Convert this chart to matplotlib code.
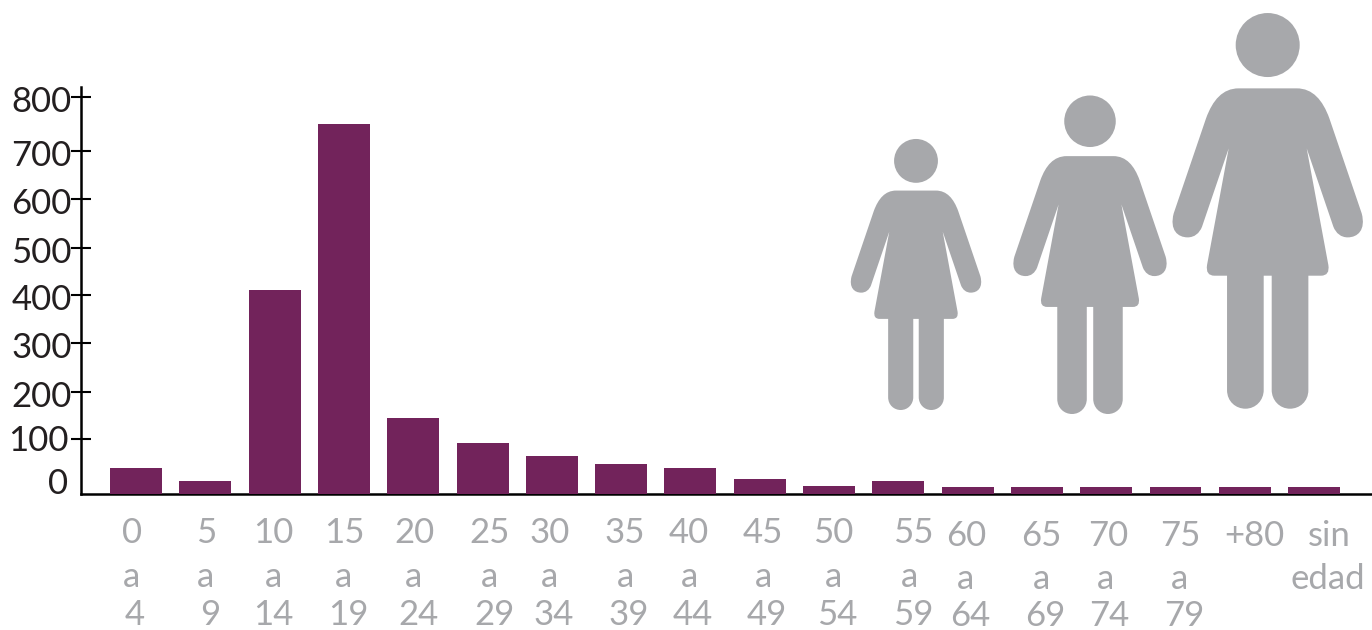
import numpy as np
import matplotlib
matplotlib.use("Agg")
import matplotlib.pyplot as plt
from matplotlib.path import Path
from matplotlib.patches import PathPatch, Circle
from matplotlib.transforms import ScaledTranslation

# data
age_groups = [("0", "a", "4"), ("5", "a", "9"), ("10", "a", "14"), ("15", "a", "19"),
              ("20", "a", "24"), ("25", "a", "29"), ("30", "a", "34"), ("35", "a", "39"),
              ("40", "a", "44"), ("45", "a", "49"), ("50", "a", "54"), ("55", "a", "59"),
              ("60", "a", "64"), ("65", "a", "69"), ("70", "a", "74"), ("75", "a", "79"),
              ("+80",), ("sin", "edad")]
cases = [47, 24, 410, 750, 145, 93, 69, 55, 47, 27, 15, 24, 13, 13, 13, 13, 13, 13]
y_ticks = [0, 100, 200, 300, 400, 500, 600, 700, 800]

# the printed y axis is not evenly spaced, so keep its tick heights (px from baseline)
scale_vals = [0, 100, 200, 300, 400, 500, 600, 700, 800, 820]
scale_px = [0, 55, 102, 151, 199, 246, 295, 343, 396.7, 407]

# hand placed label positions in the original (x for each line, baseline y for each line)
label_x = [(132, 131, 135), (206, 206, 210), (273, 273, 273), (344, 344, 348),
           (414, 414, 418), (490, 490, 494), (550, 550, 554), (625, 625, 629),
           (689, 689, 693), (763, 763, 767), (833, 833, 837), (913, 909, 913),
           (966, 966, 970), (1041, 1041, 1045), (1108, 1105, 1109), (1180, 1180, 1184),
           (1254,), (1329, 1328)]
label_y_early = (543, 587, 625)
label_y_late = (546, 589, 626)

PURPLE = "#72235b"
GREY = "#a7a8ab"
DARK = "#231f20"
W, H = 1372, 630
plt.rcParams["font.family"] = ["Lato", "DejaVu Sans"]

fig = plt.figure(figsize=(W / 100, H / 100), dpi=100)
ax = fig.add_axes([80.5 / W, (H - 494) / H, (W - 80.5) / W, 407 / H])

x = np.arange(len(cases))
ax.bar(x, cases, width=52 / 69.3, color=PURPLE, zorder=3)
ax.set_xlim((80.5 - 136) / 69.3, (W - 136) / 69.3)
ax.set_yscale("function", functions=(lambda v: np.interp(v, scale_vals, scale_px),
                                     lambda p: np.interp(p, scale_px, scale_vals)))
ax.set_ylim(0, 820)
ax.set_yticks(y_ticks)
ax.minorticks_off()
ax.set_xticks([])
ax.tick_params(axis="y", direction="inout", length=13.7, width=1.5, color="black",
               labelsize=25, labelcolor=DARK, pad=-4)
ax.yaxis.get_major_ticks()[0].tick1line.set_visible(False)
for side in ["top", "right"]:
    ax.spines[side].set_visible(False)
for side in ["left", "bottom"]:
    ax.spines[side].set_linewidth(1.8)
    ax.spines[side].set_color("black")

# the 0 and 100 labels sit off their ticks in the original
label_shift = {0: (-8, 13), 100: (-8, 1)}
for val, lab in zip(y_ticks, ax.get_yticklabels()):
    dx, dy = label_shift.get(val, (-5, -2))
    lab.set_transform(lab.get_transform() + ScaledTranslation(dx / 100, dy / 100, fig.dpi_scale_trans))

# overlay in pixel coordinates for the silhouettes and age labels
over = fig.add_axes([0, 0, 1, 1])
over.set_xlim(0, W)
over.set_ylim(H, 0)
over.axis("off")

for i, (lines, xs) in enumerate(zip(age_groups, label_x)):
    ys = label_y_early if i < 12 else label_y_late
    for line, px, py in zip(lines, xs, ys):
        over.text(px, py, line, color=GREY, fontsize=25, ha="center", va="baseline")

# right half of the figure, offsets from the centre line
start = (0, 265)
half = [[(87, 265)],
        [(135, 265), (165, 300), (185, 355)],
        [(282, 640)],
        [(295, 690), (270, 712), (240, 712)],
        [(220, 712), (205, 700), (197, 680)],
        [(117, 445)],
        [(182, 795)],
        [(187, 827), (160, 827)],
        [(122, 827)],
        [(122, 1170)],
        [(122, 1205), (95, 1226), (67, 1226)],
        [(35, 1226), (12, 1200), (12, 1170)],
        [(12, 827)],
        [(0, 827)]]
curve_codes = {1: [Path.LINETO], 2: [Path.CURVE3] * 2, 3: [Path.CURVE4] * 3}


def person_path():
    verts = [start]
    codes = [Path.MOVETO]
    for seg in half:
        verts += seg
        codes += curve_codes[len(seg)]
    # walk back up the left side
    begin = start
    starts = []
    for seg in half:
        starts.append(begin)
        begin = seg[-1]
    for seg, s in zip(reversed(half), reversed(starts)):
        back = list(reversed(seg[:-1])) + [s]
        verts += [(-px, py) for px, py in back]
        codes += curve_codes[len(back)]
    return np.array(verts, dtype=float), codes


def draw_person(cx, foot_y, size):
    verts, codes = person_path()
    k = size / 3
    pts = np.column_stack([cx + verts[:, 0] * k, foot_y - (1226 - verts[:, 1]) * k])
    over.add_patch(PathPatch(Path(pts, codes), facecolor=GREY, edgecolor="none"))
    over.add_patch(Circle((cx, foot_y - (1226 - 135) * k), 96 * k, facecolor=GREY, edgecolor="none"))


draw_person(916, 410, 0.685)
draw_person(1090, 414, 0.805)
draw_person(1267.7, 408.7, 1.0)

fig.savefig("out.png", dpi=100)
